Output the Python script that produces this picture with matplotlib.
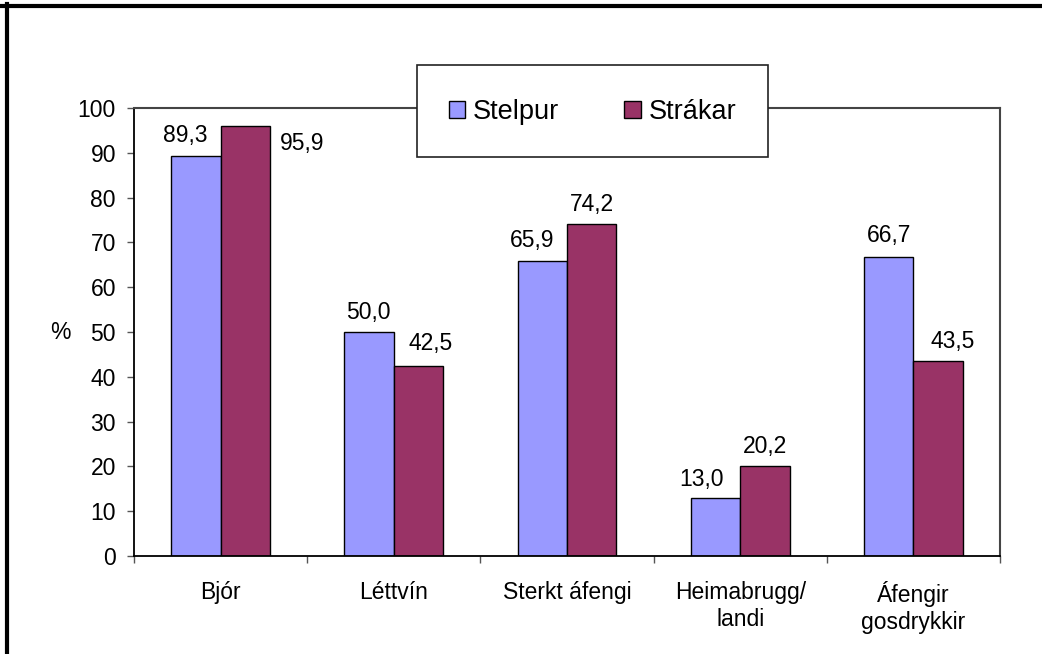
import matplotlib
matplotlib.use("Agg")
import matplotlib.pyplot as plt
import numpy as np
from matplotlib.patches import Rectangle
from matplotlib.lines import Line2D

plt.rcParams["font.family"] = ["Liberation Sans", "DejaVu Sans"]

categories = ["Bjór", "Léttvín", "Sterkt áfengi", "Heimabrugg/\nlandi", "Áfengir\ngosdrykkir"]
stelpur = [89.3, 50.0, 65.9, 13.0, 66.7]
strakar = [95.9, 42.5, 74.2, 20.2, 43.5]
series_names = ["Stelpur", "Strákar"]

# label nudges in pixels (dx, dy to baseline), picked by eye
nudge_stelpur = [(-11, 14), (-1, 13), (-10, 14), (-14, 12), (0, 15)]
nudge_strakar = [(57, -24), (12, 16), (0, 13), (0, 13), (15, 13)]

W, H = 1042, 654
FS = 16.5
fig = plt.figure(figsize=(W / 100, H / 100), dpi=100)
ax = fig.add_axes([134 / W, 1 - 556 / H, (1000 - 134) / W, (556 - 108) / H])

x = np.arange(len(categories))
bw = 1 / 3.5
b1 = ax.bar(x - bw / 2, stelpur, bw, color="#9999FF", edgecolor="black", lw=1, label=series_names[0])
b2 = ax.bar(x + bw / 2, strakar, bw, color="#993366", edgecolor="black", lw=1, label=series_names[1])

def fmt(v):
    return f"{v:.1f}".replace(".", ",")

for xs, vals, nudges in [(x - bw / 2, stelpur, nudge_stelpur), (x + bw / 2, strakar, nudge_strakar)]:
    for xi, v, (dx, dy) in zip(xs, vals, nudges):
        ax.annotate(fmt(v), xy=(xi, v), xytext=(dx, dy), textcoords="offset pixels",
                    ha="center", va="baseline", fontsize=FS)

ax.set_xlim(-0.5, len(categories) - 0.5)
ax.set_ylim(0, 100)
ax.set_yticks(np.arange(0, 101, 10))
ax.tick_params(axis="y", length=5, width=1, color="#555555", pad=8, labelsize=FS)
ax.set_xticks(x)
ax.set_xticklabels(categories, fontsize=FS, linespacing=1.25)
ax.tick_params(axis="x", which="major", length=0, pad=18)
ax.set_xticks(np.arange(-0.5, len(categories)), minor=True)
ax.tick_params(axis="x", which="minor", length=5, width=1, color="#555555", direction="out")

for s in ["left", "bottom"]:
    ax.spines[s].set_color("black")
    ax.spines[s].set_linewidth(1.3)
for s in ["top", "right"]:
    ax.spines[s].set_color("#444444")
    ax.spines[s].set_linewidth(1.5)

fig.text(60 / W, 1 - 333 / H, "%", ha="center", va="center", fontsize=FS)

# legend box
fig.patches.append(Rectangle((417 / W, 1 - 157 / H), (768 - 417) / W, (157 - 65) / H,
                             transform=fig.transFigure, facecolor="white", edgecolor="#222222",
                             lw=1.2, zorder=4))
fig.legend(handles=[b1, b2], loc="center", bbox_to_anchor=(592.5 / W, 1 - 112 / H),
           ncol=2, frameon=False, fontsize=19.5, handlelength=0.6, handleheight=0.6,
           handletextpad=0.3, columnspacing=2.4).set_zorder(5)

# thick outer frame (top and left)
fig.add_artist(Line2D([0, 1], [1 - 6 / H, 1 - 6 / H], transform=fig.transFigure, color="black", lw=3))
fig.add_artist(Line2D([7 / W, 7 / W], [0, 1 - 4 / H], transform=fig.transFigure, color="black", lw=3))

fig.savefig("out.png", dpi=100)
